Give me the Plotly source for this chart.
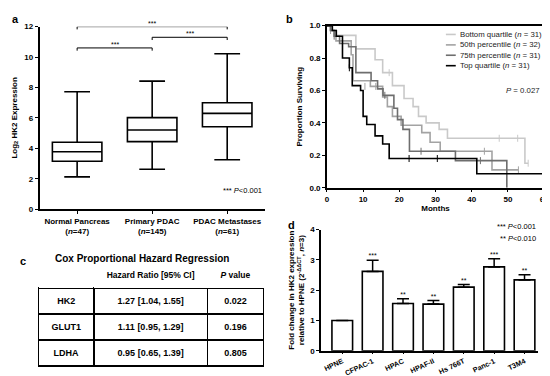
import plotly.graph_objects as go

W, H = 550, 376

# ---------------- Panel a data ----------------
box_groups = ["Normal Pancreas", "Primary PDAC", "PDAC Metastases"]
box_n = [47, 145, 61]
box_low = [2.12, 2.62, 3.25]
box_q1 = [3.15, 4.44, 5.42]
box_med = [3.77, 5.2, 6.3]
box_q3 = [4.4, 6.02, 7.0]
box_high = [7.72, 8.42, 10.22]
sig_pairs = [(0, 2), (1, 2), (0, 1)]
sig_y = [12.0, 11.3, 10.6]
sig_label = ["***", "***", "***"]
a_yticks = [0, 2, 4, 6, 8, 10, 12]

# ---------------- Panel b data ----------------
km_names = ["Bottom quartile", "50th percentile", "75th percentile", "Top quartile"]
km_n = [31, 32, 31, 31]
km_t = [
    [0, 1, 2, 8, 13.3, 15.4, 18.1, 21.3, 23.8, 25.3, 27.4, 31.0, 33.3, 54.7, 55.6],
    [0, 1, 2.5, 6.7, 7.2, 12.0, 15.4, 16.7, 18.1, 20.5, 26.2, 28.5, 31.3, 45.6, 52.9],
    [0, 1, 2, 3.5, 6.0, 8.0, 12.2, 14.0, 15.5, 18.5, 19.5, 21.0, 22.8, 35.5, 49.7],
    [0, 1.5, 2.6, 4.3, 6.2, 7.0, 9.3, 10.0, 11.0, 13.3, 15.4, 17.2, 41.4, 59.7],
]
km_s = [
    [1.0, 0.97, 0.94, 0.857, 0.79, 0.71, 0.63, 0.55, 0.50, 0.44, 0.40, 0.36, 0.305, 0.151, 0.151],
    [1.0, 0.97, 0.906, 0.82, 0.66, 0.625, 0.56, 0.50, 0.44, 0.385, 0.34, 0.28, 0.225, 0.11, 0.11],
    [1.0, 0.97, 0.935, 0.89, 0.87, 0.71, 0.66, 0.61, 0.57, 0.49, 0.42, 0.36, 0.225, 0.167, 0.0],
    [1.0, 0.97, 0.935, 0.80, 0.74, 0.63, 0.60, 0.44, 0.39, 0.32, 0.27, 0.18, 0.086, 0.086],
]
km_cens_t = [
    [1.0, 17.2, 47.6, 52.7, 55.6],
    [1.0, 10.5, 13.5, 43.5, 52.9],
    [2.0, 16.0, 26.0, 42.4],
    [6.2, 22.7, 30.5, 59.7],
]
km_cens_s = [
    [0.97, 0.71, 0.305, 0.305, 0.151],
    [0.97, 0.625, 0.625, 0.225, 0.11],
    [0.935, 0.57, 0.225, 0.167],
    [0.74, 0.18, 0.18, 0.086],
]
km_p = "0.027"

# ---------------- Panel c data ----------------
cox_genes = ["HK2", "GLUT1", "LDHA"]
cox_hr = ["1.27 [1.04, 1.55]", "1.11 [0.95, 1.29]", "0.95 [0.65, 1.39]"]
cox_p = ["0.022", "0.196", "0.805"]

# ---------------- Panel d data ----------------
cell_lines = ["HPNE", "CFPAC-1", "HPAC", "HPAF-II", "Hs 766T", "Panc-1", "T3M4"]
fold = [1.0, 2.62, 1.56, 1.54, 2.10, 2.77, 2.34]
fold_err = [0.0, 0.37, 0.16, 0.12, 0.09, 0.27, 0.17]
fold_sig = ["", "***", "**", "**", "**", "***", "**"]
d_yticks = [0, 1, 2, 3, 4]

FONT = "Liberation Sans, Arial, sans-serif"
km_colors = ["#c9c9c9", "#a3a3a3", "#6e6e6e", "#000000"]


def px(x):
    return x / W


def py(y):
    return 1 - y / H


fig = go.Figure()

# ---- Panel a: box plot ----
xs = list(range(len(box_groups)))
fig.add_trace(go.Box(
    x=xs, q1=box_q1, median=box_med, q3=box_q3,
    lowerfence=box_low, upperfence=box_high,
    width=0.66, whiskerwidth=0.52,
    line=dict(color="black", width=1.6), fillcolor="white",
    boxpoints=False, xaxis="x", yaxis="y", showlegend=False, hoverinfo="skip",
))

shapes = []
annotations = []
for (i, j), yv, lab in zip(sig_pairs, sig_y, sig_label):
    shapes.append(dict(type="path", xref="x", yref="y",
                       path=f"M {i},{yv-0.18} L {i},{yv} L {j},{yv} L {j},{yv-0.18}",
                       line=dict(color="black", width=1)))
    annotations.append(dict(x=(i + j) / 2, y=yv, xref="x", yref="y", text=lab,
                            showarrow=False, yanchor="bottom", yshift=-2,
                            font=dict(size=7, family=FONT, color="black")))

# ---- Panel b: Kaplan-Meier ----
for k in range(4):
    fig.add_trace(go.Scatter(
        x=km_t[k], y=km_s[k], mode="lines", line=dict(color=km_colors[k], width=1.6, shape="hv"),
        xaxis="x2", yaxis="y2", showlegend=False, hoverinfo="skip"))
    fig.add_trace(go.Scatter(
        x=km_cens_t[k], y=km_cens_s[k], mode="markers",
        marker=dict(symbol="line-ns-open", size=5, color=km_colors[k],
                    line=dict(color=km_colors[k], width=1)),
        xaxis="x2", yaxis="y2", showlegend=False, hoverinfo="skip"))

leg_y = [23, 33.7, 44.3, 55]
for k in range(4):
    shapes.append(dict(type="line", xref="paper", yref="paper",
                       x0=px(441.5), x1=px(451.5), y0=py(leg_y[k]), y1=py(leg_y[k]),
                       line=dict(color=km_colors[k], width=1.6)))
    annotations.append(dict(x=px(454), y=py(leg_y[k]), xref="paper", yref="paper",
                            text=f"{km_names[k]} (<i>n</i> = {km_n[k]})", showarrow=False,
                            xanchor="left", yanchor="middle",
                            font=dict(size=7.8, family=FONT, color="#222")))
annotations.append(dict(x=px(539), y=py(80), xref="paper", yref="paper",
                        text=f"<i>P</i> = {km_p}", showarrow=False, xanchor="right",
                        yanchor="middle", font=dict(size=7.8, family=FONT, color="#222")))

# ---- Panel c: table ----
fig.add_trace(go.Table(
    domain=dict(x=[px(29), px(257)], y=[0, py(256)]),
    columnwidth=[56, 115, 57],
    header=dict(values=[" ", "<b>Hazard Ratio [95% CI]</b>", "<b><i>P</i> value</b>"],
                fill_color="white", line=dict(width=0, color="white"), height=17,
                align="center", font=dict(size=8.5, family=FONT, color="black")),
    cells=dict(values=[[f"<b>{g}</b>" for g in cox_genes],
                       [f"<b>{h}</b>" for h in cox_hr],
                       [f"<b>{p}</b>" for p in cox_p]],
               fill_color="white", line=dict(width=1.5, color="black"), height=25,
               align="center", font=dict(size=9, family=FONT, color="black")),
))
annotations.append(dict(x=px(134), y=py(253), xref="paper", yref="paper",
                        text="<b>Cox Proportional Hazard Regression</b>", showarrow=False,
                        xanchor="center", yanchor="middle",
                        font=dict(size=10, family=FONT, color="black")))

# ---- Panel d: bar chart ----
xd = list(range(len(cell_lines)))
fig.add_trace(go.Bar(
    x=xd, y=fold, width=0.68,
    marker=dict(color="white", line=dict(color="black", width=1.6)),
    error_y=dict(type="data", symmetric=False, array=fold_err, arrayminus=[0] * len(fold),
                 thickness=1.5, width=6, color="black"),
    xaxis="x3", yaxis="y3", showlegend=False, hoverinfo="skip"))
sig_idx = [i for i, s in enumerate(fold_sig) if s]
fig.add_trace(go.Scatter(
    x=sig_idx, y=[fold[i] + fold_err[i] for i in sig_idx], mode="text",
    text=[fold_sig[i] for i in sig_idx],
    textposition="top center", textfont=dict(size=7, family=FONT, color="black"),
    xaxis="x3", yaxis="y3", showlegend=False, hoverinfo="skip"))
annotations.append(dict(x=px(535), y=py(220), xref="paper", yref="paper",
                        text="*** <i>P</i><0.001", showarrow=False, xanchor="right",
                        yanchor="middle", font=dict(size=7.5, family=FONT, color="black")))
annotations.append(dict(x=px(535), y=py(232), xref="paper", yref="paper",
                        text="** <i>P</i><0.010", showarrow=False, xanchor="right",
                        yanchor="middle", font=dict(size=7.5, family=FONT, color="black")))

# Panel a legend note
annotations.append(dict(x=px(257), y=py(183), xref="paper", yref="paper",
                        text="*** <i>P</i><0.001", showarrow=False, xanchor="right",
                        yanchor="middle", font=dict(size=7.5, family=FONT, color="black")))

# Panel letters
for lab, (lx, ly) in zip(["a", "b", "c", "d"], [(6, 7), (283, 7), (13, 255), (285, 218)]):
    annotations.append(dict(x=px(lx), y=py(ly), xref="paper", yref="paper",
                            text=f"<b>{lab}</b>", showarrow=False, xanchor="center",
                            yanchor="middle", font=dict(size=11, family=FONT, color="black")))

tickfont = dict(size=8, family=FONT, color="black", weight="bold")
titlefont = dict(size=8, family=FONT, color="black", weight="bold")

fig.update_layout(
    width=W, height=H, margin=dict(l=0, r=0, t=0, b=0),
    paper_bgcolor="white", plot_bgcolor="white",
    font=dict(family=FONT, color="black"),
    showlegend=False,
    shapes=shapes, annotations=annotations,
    xaxis=dict(domain=[px(30), px(258)], range=[-0.5, 2.5],
               tickvals=xs,
               ticktext=[f"<b>{g}</b><br><b>(<i>n</i>={n})</b>" for g, n in zip(box_groups, box_n)],
               showline=True, linecolor="black", linewidth=1.5, ticks="outside", ticklen=3,
               tickwidth=1.2, tickcolor="black", showgrid=False, zeroline=False,
               tickfont=dict(size=8, family=FONT, color="black")),
    yaxis=dict(domain=[py(202), py(15)], range=[0, 12], tickvals=a_yticks,
               showline=True, linecolor="black", linewidth=1.5, ticks="outside", ticklen=3,
               tickwidth=1.2, tickcolor="black", showgrid=False, zeroline=False,
               tickfont=tickfont,
               title=dict(text="<b>Log<sub>2</sub> HK2 Expression</b>", font=titlefont, standoff=6)),
    xaxis2=dict(domain=[px(321), px(541)], range=[0, 60], dtick=10,
                showline=True, mirror=True, linecolor="black", linewidth=1.5,
                ticks="outside", ticklen=3, tickwidth=1.2, tickcolor="black",
                showgrid=False, zeroline=False, tickfont=tickfont, anchor="y2",
                title=dict(text="<b>Months</b>", font=titlefont, standoff=2)),
    yaxis2=dict(domain=[py(180), py(14)], range=[0, 1], dtick=0.2, tickformat=".1f",
                showline=True, mirror=True, linecolor="black", linewidth=1.5,
                ticks="outside", ticklen=3, tickwidth=1.2, tickcolor="black",
                showgrid=False, zeroline=False, tickfont=tickfont, anchor="x2",
                title=dict(text="<b>Proportion Surviving</b>", font=titlefont, standoff=6)),
    xaxis3=dict(domain=[px(315), px(535)], range=[-0.7, 6.45], tickvals=xd,
                ticktext=cell_lines, tickangle=-25,
                showline=True, linecolor="black", linewidth=1.5, ticks="outside", ticklen=2,
                tickwidth=1.2, tickcolor="black", showgrid=False, zeroline=False,
                tickfont=dict(size=7.2, family=FONT, color="black", weight="bold"), anchor="y3"),
    yaxis3=dict(domain=[py(347), py(223)], range=[0, 4], tickvals=d_yticks,
                showline=True, linecolor="black", linewidth=1.5, ticks="outside", ticklen=3,
                tickwidth=1.2, tickcolor="black", showgrid=False, zeroline=False,
                tickfont=tickfont, anchor="x3",
                title=dict(text="<b>Fold change in HK2 expression<br>relative to HPNE (2<sup>-ΔΔCT</sup>, <i>n</i>=3)</b>",
                           font=titlefont, standoff=4)),
)

fig.write_html("out.html")
